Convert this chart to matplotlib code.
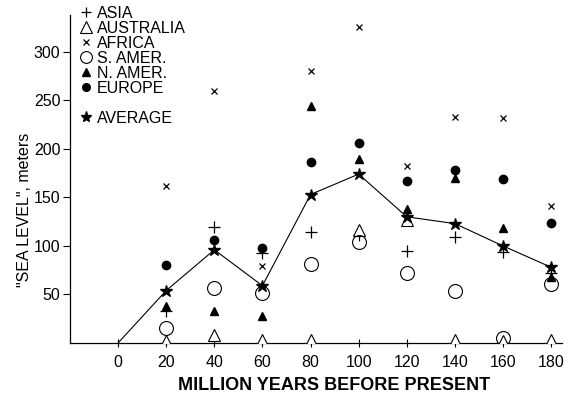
import matplotlib
matplotlib.use('Agg')
import matplotlib.pyplot as plt
from matplotlib.lines import Line2D

# million years before present
ages = [20, 40, 60, 80, 100, 120, 140, 160, 180]

# sea level (m), per continent
asia = [33, 119, 93, 114, 111, 95, 109, 94, 72]
australia = [2, 8, 3, 3, 116, 127, 3, 2, 3]
africa = [162, 260, 79, 280, 326, 182, 233, 232, 141]
s_amer = [15, 57, 51, 81, 104, 72, 54, 5, 61]
n_amer = [38, 33, 28, 244, 190, 138, 170, 118, 68]
europe = [80, 106, 98, 187, 206, 167, 178, 169, 124]
average = [54, 96, 59, 153, 174, 130, 123, 100, 78]

avg_line_x = [0] + ages
avg_line_y = [0] + average

yticks = [50, 100, 150, 200, 250, 300]
xticks = [0, 20, 40, 60, 80, 100, 120, 140, 160, 180]

plt.rcParams['font.family'] = ['Liberation Sans', 'DejaVu Sans']

fig = plt.figure(figsize=(5.69, 3.96), dpi=100)
ax = fig.add_axes([0.123, 0.134, 0.865, 0.828])

ax.plot(avg_line_x, avg_line_y, color='black', lw=0.8, zorder=2)
ax.plot(ages, average, ls='none', marker='*', ms=9, color='black', zorder=4)

ax.plot(ages, asia, ls='none', marker='+', ms=8, mew=0.9, color='black', zorder=3)
ax.plot(ages, australia, ls='none', marker='^', ms=9, mfc='white', mec='black', mew=0.8, zorder=3)
ax.plot(ages, africa, ls='none', marker='x', ms=5, mew=0.9, color='black', zorder=3)
ax.plot(ages, s_amer, ls='none', marker='o', ms=10, mfc='none', mec='black', mew=0.8, zorder=3)
ax.plot(ages, n_amer, ls='none', marker='^', ms=6, color='black', zorder=3)
ax.plot(ages, europe, ls='none', marker='o', ms=6, color='black', zorder=3)

ax.set_xlim(-20, 184.6)
ax.set_ylim(0, 338)
ax.set_xticks(xticks)
ax.set_yticks(yticks)
ax.tick_params(axis='y', direction='out', length=5, width=0.8, labelsize=11.5, pad=2)
ax.tick_params(axis='x', direction='inout', length=6, width=0.8, labelsize=11.5, pad=6)

for s in ['top', 'right']:
    ax.spines[s].set_visible(False)
for s in ['left', 'bottom']:
    ax.spines[s].set_linewidth(0.9)

ax.set_ylabel('"SEA LEVEL", meters', fontsize=11.5)
ax.yaxis.set_label_coords(-0.078, 0.405)
ax.set_xlabel('MILLION YEARS BEFORE PRESENT', fontsize=13, fontweight='bold')
ax.xaxis.set_label_coords(0.537, -0.105)

handles = [
    Line2D([], [], ls='none', marker='+', ms=7, mew=0.9, color='black'),
    Line2D([], [], ls='none', marker='^', ms=8, mfc='white', mec='black', mew=0.8),
    Line2D([], [], ls='none', marker='x', ms=4.5, mew=0.9, color='black'),
    Line2D([], [], ls='none', marker='o', ms=8.5, mfc='none', mec='black', mew=0.8),
    Line2D([], [], ls='none', marker='^', ms=5.5, color='black'),
    Line2D([], [], ls='none', marker='o', ms=5.5, color='black'),
    Line2D([], [], ls='none'),
    Line2D([], [], ls='none', marker='*', ms=8, color='black'),
]
labels = ['ASIA', 'AUSTRALIA', 'AFRICA', 'S. AMER.', 'N. AMER.', 'EUROPE', '', 'AVERAGE']
ax.legend(handles, labels, loc='upper left', bbox_to_anchor=(0.004, 1.053),
          frameon=False, fontsize=11.5, handlelength=0.8, handletextpad=0.25,
          labelspacing=0.0, borderpad=0)

fig.savefig('out.png', dpi=100)
